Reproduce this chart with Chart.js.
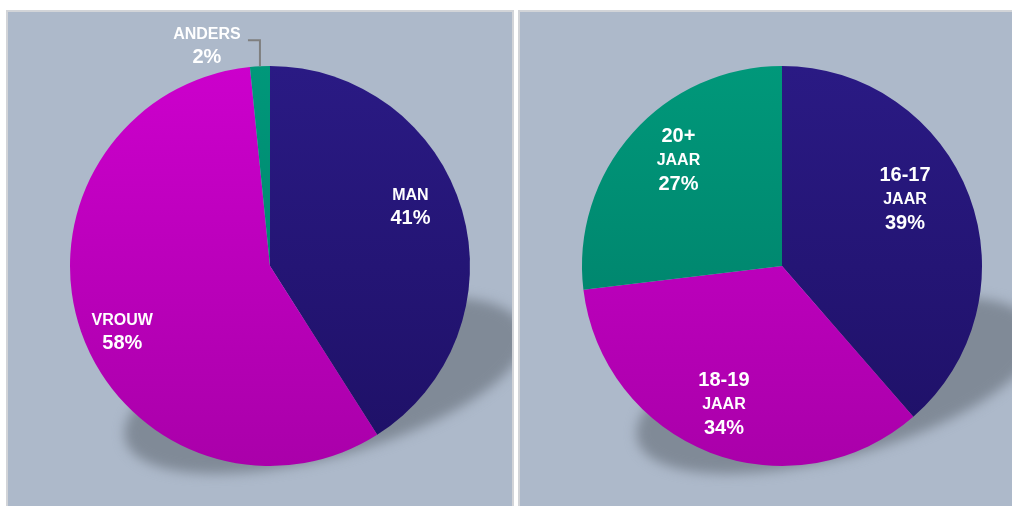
<!DOCTYPE html>
<html>
<head>
<meta charset="utf-8">
<script src="https://cdn.jsdelivr.net/npm/chart.js@4"></script>
<style>
  html, body { margin:0; padding:0; background:#ffffff; width:1012px; height:506px; overflow:hidden; }
  .panel { position:absolute; background:#adb9ca; box-sizing:border-box; border:2px solid #d2d4d8; }
  #p1 { left:6px; top:10px; width:508px; height:510px; }
  #p2 { left:518px; top:10px; width:500px; height:510px; border-right:none; }
  canvas { position:absolute; }
</style>
</head>
<body>
<div class="panel" id="p1"></div>
<div class="panel" id="p2"></div>
<canvas id="c1" width="504" height="494" style="left:8px;top:12px;width:504px;height:494px"></canvas>
<canvas id="c2" width="492" height="494" style="left:520px;top:12px;width:492px;height:494px"></canvas>
<script>
// ---- data ----
const genderLabels = ['MAN', 'VROUW', 'ANDERS'];
const genderValues = [41, 57.4, 1.6];
const genderPct = ['41%', '58%', '2%'];

const ageLabels = ['16-17', '18-19', '20+'];
const ageSubLabels = ['JAAR', 'JAAR', 'JAAR'];
const ageValues = [38.6, 34.5, 26.9];
const agePct = ['39%', '34%', '27%'];

// ---- colours (top, bottom of gradient) ----
const NAVY = ['#2a1a84', '#1e1066'];
const MAGENTA = ['#cc00cc', '#aa00aa'];
const GREEN = ['#00987a', '#007a66'];

function makeGrad(chart, pair) {
  const a = chart.chartArea;
  if (!a) return pair[0];
  const g = chart.ctx.createLinearGradient(0, a.top, 0, a.bottom);
  g.addColorStop(0, pair[0]);
  g.addColorStop(1, pair[1]);
  return g;
}

const shadowPlugin = {
  id: 'floorShadow',
  beforeDatasetsDraw(chart) {
    const meta = chart.getDatasetMeta(0);
    const arc = meta.data[0];
    if (!arc) return;
    const cx = arc.x, cy = arc.y, r = arc.outerRadius;
    const ctx = chart.ctx;
    ctx.save();
    ctx.filter = 'blur(6px)';
    ctx.fillStyle = '#808a97';
    ctx.beginPath();
    ctx.ellipse(cx + r * 0.275, cy + r * 0.595, r * 1.035, r * 0.36, -0.27, 0, Math.PI * 2);
    ctx.fill();
    ctx.restore();
  }
};

function labelPlugin(lines, radial, outside) {
  return {
    id: 'sliceLabels',
    afterDatasetsDraw(chart) {
      const ctx = chart.ctx;
      const meta = chart.getDatasetMeta(0);
      ctx.save();
      ctx.fillStyle = '#ffffff';
      ctx.textAlign = 'center';
      ctx.textBaseline = 'middle';
      meta.data.forEach((arc, i) => {
        const mid = (arc.startAngle + arc.endAngle) / 2;
        const r = arc.outerRadius;
        if (outside && outside[i]) {
          const px = arc.x + r * Math.cos(mid);
          const py = arc.y + r * Math.sin(mid);
          ctx.strokeStyle = '#7f7f7f';
          ctx.lineWidth = 2;
          ctx.beginPath();
          ctx.moveTo(px, py);
          ctx.lineTo(px, py - 26);
          ctx.lineTo(px - 12, py - 26);
          ctx.stroke();
          const lx = px - 53;
          const L = lines[i];
          ctx.font = 'bold 16px "Liberation Sans", Arial, sans-serif';
          ctx.fillText(L[0][0], lx, py - 32);
          ctx.font = 'bold 20px "Liberation Sans", Arial, sans-serif';
          ctx.fillText(L[1][0], lx, py - 9);
          return;
        }
        const f = radial[i];
        const ang = mid + (radial.shift ? radial.shift[i] : 0);
        const x = arc.x + r * f * Math.cos(ang);
        const y = arc.y + r * f * Math.sin(ang);
        const L = lines[i];
        let total = 0;
        L.forEach(l => total += l[2]);
        let yy = y - total / 2;
        L.forEach(l => {
          ctx.font = 'bold ' + l[1] + 'px "Liberation Sans", Arial, sans-serif';
          ctx.fillText(l[0], x, yy + l[2] / 2);
          yy += l[2];
        });
      });
      ctx.restore();
    }
  };
}

function makeChart(id, values, colors, padding, plugins) {
  return new Chart(document.getElementById(id), {
    type: 'pie',
    data: {
      labels: values.map((_, i) => i),
      datasets: [{
        data: values,
        backgroundColor: (ctx) => makeGrad(ctx.chart, colors[ctx.dataIndex]),
        borderWidth: 0,
        hoverOffset: 0
      }]
    },
    options: {
      responsive: false,
      animation: false,
      layout: { padding: padding },
      plugins: { legend: { display: false }, tooltip: { enabled: false } },
      events: []
    },
    plugins: plugins
  });
}

const genderLines = [
  [[genderLabels[0], 16, 22], [genderPct[0], 20, 24]],
  [[genderLabels[1], 16, 22], [genderPct[1], 20, 24]],
  [[genderLabels[2], 16, 22], [genderPct[2], 20, 24]]
];
const gRad = [0.76, 0.81, 0];
gRad.shift = [-0.11, -0.09, 0];
makeChart('c1', genderValues, [NAVY, MAGENTA, GREEN],
  { left: 62, right: 42, top: 54, bottom: 40 },
  [shadowPlugin, labelPlugin(genderLines, gRad, [false, false, true])]);

const ageLines = ageLabels.map((l, i) => [[l, 20, 26], [ageSubLabels[i], 16, 22], [agePct[i], 20, 26]]);
const aRad = [0.70, 0.75, 0.74];
aRad.shift = [-0.14, 0.03, 0.07];
makeChart('c2', ageValues, [NAVY, MAGENTA, GREEN],
  { left: 62, right: 30, top: 54, bottom: 40 },
  [shadowPlugin, labelPlugin(ageLines, aRad, null)]);
</script>
</body>
</html>
